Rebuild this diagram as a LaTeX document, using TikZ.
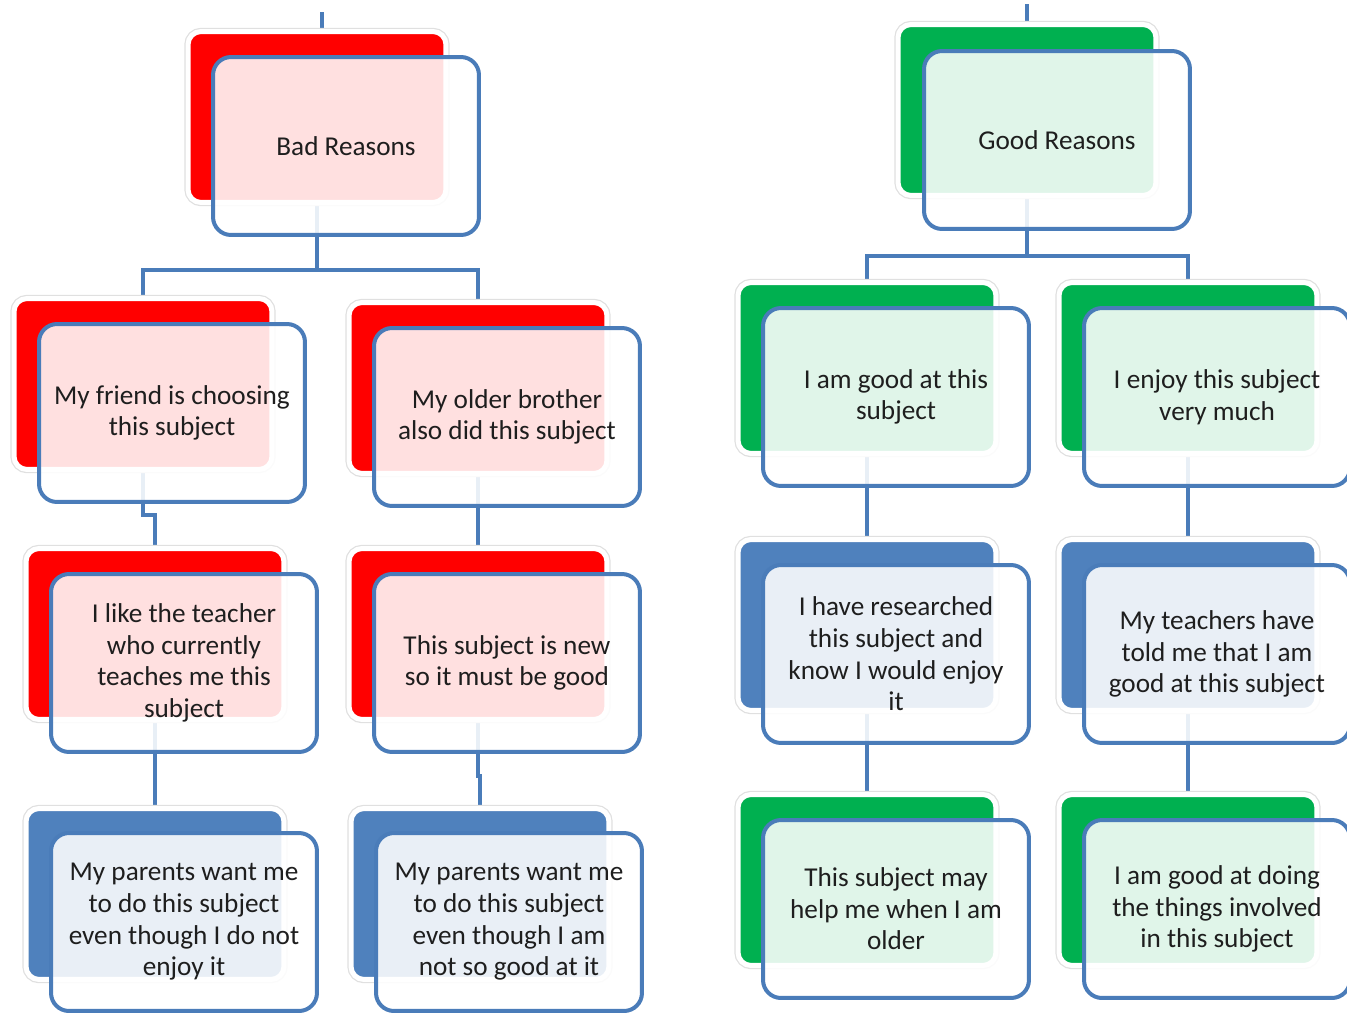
\documentclass[tikz,border=0pt]{standalone}
\usepackage{fontspec}
\setmainfont{Carlito}
\usetikzlibrary{backgrounds}
\definecolor{myred}{RGB}{255,0,0}
\definecolor{mygreen}{RGB}{0,176,80}
\definecolor{myblue}{RGB}{79,129,189}
\definecolor{myedge}{RGB}{74,124,185}
\definecolor{mytext}{RGB}{30,30,30}
\tikzstyle{back} = [draw=white, line width=0.1cm,
    preaction={draw=black!12, line width=0.15cm},
    rounded corners=0.26cm, inner sep=0,
    minimum width=5.16cm, minimum height=3.42cm]
\tikzstyle{redback} = [back, fill=myred]
\tikzstyle{greenback} = [back, fill=mygreen]
\tikzstyle{blueback} = [back, fill=myblue]
\tikzstyle{front} = [draw=myedge, line width=0.08cm, rounded corners=0.36cm,
    fill=white, fill opacity=0.88, text opacity=1, text=mytext,
    minimum width=5.32cm, minimum height=3.56cm, inner sep=2,
    font=\fontsize{15.5}{18}\selectfont, align=center]
\tikzstyle{link} = [draw=myedge, line width=0.08cm]

\begin{document}
\begin{tikzpicture}[x=0.02cm, y=-0.02cm]
\useasboundingbox (0,0) rectangle (1347,1012);

%%% BAD REASONS
\node[redback] (badb) at (317,117) {};
\node[front] (bad) at ([shift={(29,29)}]badb.center) {Bad Reasons};

% second row
\node[redback] (friendb) at (143,384) {};
\node[front] (friend) at ([shift={(29,29)}]friendb.center) {My friend is choosing\\this subject};

\node[redback] (brotherb) at (478,388) {};
\node[front] (brother) at ([shift={(29,29)}]brotherb.center) {My older brother\\also did this subject};

% third row
\node[redback] (teacherb) at (155,634) {};
\node[front] (teacher) at ([shift={(29,29)}]teacherb.center) {I like the teacher\\who currently\\teaches me this\\subject};

\node[redback] (newsubb) at (478,634) {};
\node[front] (newsub) at ([shift={(29,29)}]newsubb.center) {This subject is new\\so it must be good};

% fourth row
\node[blueback] (parentsab) at (155,894) {};
\node[front] (parentsa) at ([shift={(29,28)}]parentsab.center) {My parents want me\\to do this subject\\even though I do not\\enjoy it};

\node[blueback] (parentsbb) at (480,894) {};
\node[front] (parentsb) at ([shift={(29,28)}]parentsbb.center) {My parents want me\\to do this subject\\even though I am\\not so good at it};

%%% GOOD REASONS
\node[greenback] (goodb) at (1027,110) {};
\node[front] (good) at ([shift={(30,30)}]goodb.center) {Good Reasons};

% second row
\node[greenback] (goodatb) at (867,368) {};
\node[front] (goodat) at ([shift={(29,29)}]goodatb.center) {I am good at this\\subject};

\node[greenback] (enjoyb) at (1188,368) {};
\node[front] (enjoy) at ([shift={(29,29)}]enjoyb.center) {I enjoy this subject\\very much};

% third row
\node[blueback] (researchb) at (867,625) {};
\node[front] (research) at ([shift={(29,29)}]researchb.center) {I have researched\\this subject and\\know I would enjoy\\it};

\node[blueback] (toldb) at (1188,625) {};
\node[front] (told) at ([shift={(29,29)}]toldb.center) {My teachers have\\told me that I am\\good at this subject};

% fourth row
\node[greenback] (olderb) at (867,880) {};
\node[front] (older) at ([shift={(29,29)}]olderb.center) {This subject may\\help me when I am\\older};

\node[greenback] (doingb) at (1188,880) {};
\node[front] (doing) at ([shift={(29,29)}]doingb.center) {I am good at doing\\the things involved\\in this subject};

%%% CONNECTORS
\begin{scope}[on background layer]
\coordinate (badtop) at (322,12);
\coordinate (badfork) at (318,270);
\draw[link] (badtop) -- (badtop |- badb.center);
\draw[link] (badb.center) -- (badb.center |- badfork);
\draw[link] (friendb.center) |- (badfork) -| (brotherb.center);
\draw[link] (friendb.center) -- ++(0,131) -| (teacherb.center);
\draw[link] (teacherb.center) -- (parentsab.center);
\draw[link] (brotherb.center) -- (newsubb.center);
\draw[link] (newsubb.center) -- ++(0,142) -| (parentsbb.center);

\coordinate (goodtop) at (1027,4);
\coordinate (goodfork) at (1027,256);
\draw[link] (goodtop) -- (goodb.center);
\draw[link] (goodb.center) -- (goodfork);
\draw[link] (goodatb.center) |- (goodfork) -| (enjoyb.center);
\draw[link] (goodatb.center) -- (researchb.center) -- (olderb.center);
\draw[link] (enjoyb.center) -- (toldb.center) -- (doingb.center);
\end{scope}

\end{tikzpicture}
\end{document}
